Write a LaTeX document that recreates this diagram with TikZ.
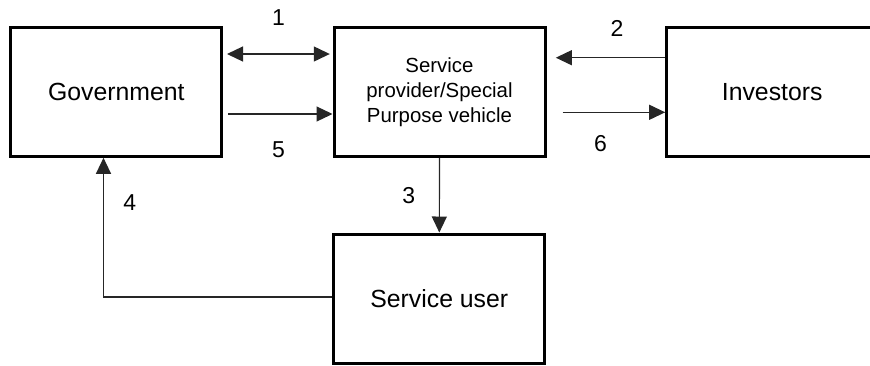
\documentclass[tikz,border=0pt]{standalone}
\usepackage{fontspec}
\setmainfont{Liberation Sans}
\usetikzlibrary{arrows.meta}

\tikzset{
    block/.style={draw, line width=1.5pt, minimum width=105.5pt, minimum height=64.5pt, inner sep=0pt, font=\fontsize{12.4}{15}\selectfont},
    flow/.style={line width=0.6pt, draw=black!85},
    num/.style={font=\fontsize{11.5}{14}\selectfont},
    >={Triangle[length=8pt,width=7.5pt]}
}

\begin{document}
\begin{tikzpicture}[x=0.5pt,y=-0.5pt]
    \clip (0,0) rectangle (870,365);

    % Boxes
    \node[block] (gov) at (116.3,91.8) {Government};
    \node[block, align=center, font=\fontsize{10.2}{12.5}\selectfont] (spv) at (439.5,91.8) {Service\\provider/Special\\Purpose vehicle};
    \node[block] (inv) at (772.2,91.8) {Investors};
    \node[block] (user) at (439.3,298.5) {Service user};

    % Flows
    \draw[flow, <->, shorten <=1.85pt, shorten >=1.35pt] (gov.east |- 0,54) -- (spv.west |- 0,54);
    \draw[flow, ->, shorten <=2.5pt] (gov.east |- 0,114) -- (spv.west |- 0,114);
    \draw[flow, ->, shorten >=4.65pt] (inv.west |- 0,57.7) -- (spv.east |- 0,57.7);
    \draw[flow, ->, shorten <=8pt] (spv.east |- 0,112.3) -- (inv.west |- 0,112.3);
    \draw[flow, ->] (spv.south) -- (user.north);
    \draw[flow, ->] (user.west |- 0,297) -| (gov.south -| 103.5,0);

    % Numbers
    \node[num] (n1) at (278.5,18) {1};
    \node[num] (n2) at (617,28) {2};
    \node[num] (n3) at (408.8,196) {3};
    \node[num] (n4) at (129.7,203) {4};
    \node[num] (n5) at (278.5,149.5) {5};
    \node[num] (n6) at (600.5,143.5) {6};
\end{tikzpicture}
\end{document}
